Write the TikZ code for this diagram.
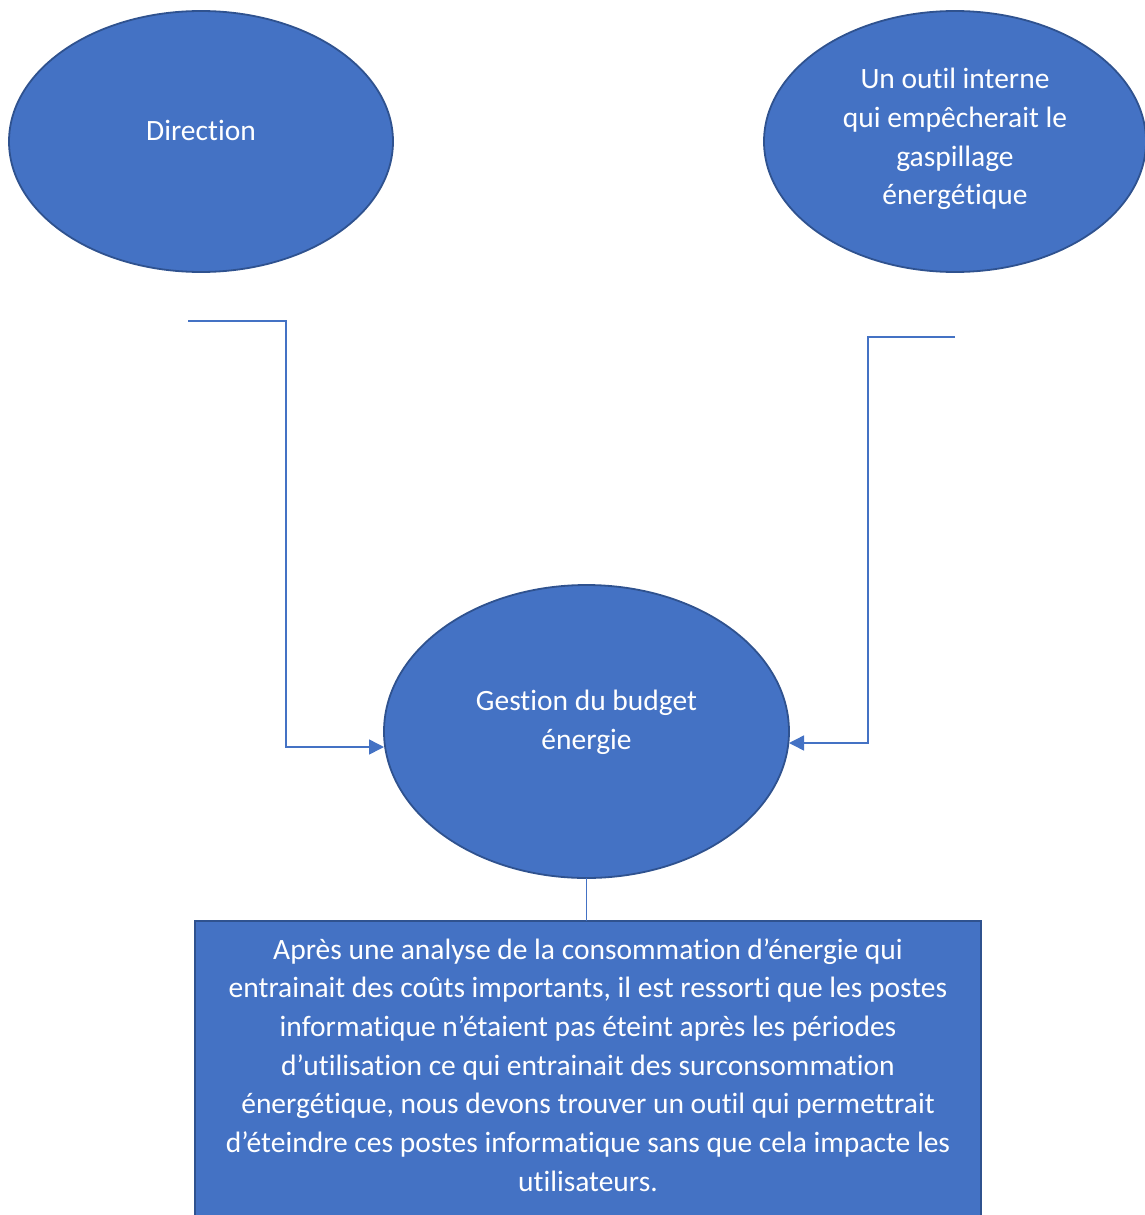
\documentclass[tikz,border=0pt]{standalone}
\usepackage{fontspec}
\setmainfont{Carlito}[Ligatures=NoCommon]
\usetikzlibrary{shapes.geometric,arrows.meta,calc}
\definecolor{offblue}{HTML}{4472C4}
\definecolor{offedge}{HTML}{2F528F}
\begin{document}
\begin{tikzpicture}[x=1pt,y=-1pt,
  blob/.style={ellipse,draw=offedge,fill=offblue,line width=1.8pt,inner sep=0pt,outer sep=0pt},
  label/.style={text=white,align=center,font=\fontsize{29.5}{38.7}\selectfont,inner sep=0pt},
  link/.style={draw=offblue,line width=1.5pt},
  tip/.style={-{Triangle[length=15pt,width=15pt]}}]
\useasboundingbox (0,0) rectangle (1145,1215);
\node[blob,minimum width=384pt,minimum height=261pt] (dir) at (201,141.5) {};
\node[label] (dirt) at (201,130) {Direction};
\node[blob,minimum width=382pt,minimum height=261pt] (outil) at (955,141.5) {};
\node[label] (outilt) at (955,139) {Un outil interne\\qui empêcherait le\\gaspillage\\énergétique};
\node[blob,minimum width=405pt,minimum height=293pt] (g) at (586.5,731.5) {};
\node[label] (gt) at (586.5,722) {Gestion du budget\\énergie};
\node[draw=offedge,fill=offblue,line width=1.8pt,minimum width=786pt,minimum height=310pt,inner sep=0pt,outer sep=0pt,anchor=north west] (box) at (195,921) {};
\node[label,anchor=north] (boxt) at (588,938) {Après une analyse de la consommation d’énergie qui\\entrainait des coûts importants, il est ressorti que les postes\\informatique n’étaient pas éteint après les périodes\\d’utilisation ce qui entrainait des surconsommation\\énergétique, nous devons trouver un outil qui permettrait\\d’éteindre ces postes informatique sans que cela impacte les\\utilisateurs.};
\coordinate (s1) at (188,321);
\coordinate (s2) at (955,337);
\coordinate (b1) at (286,747);
\coordinate (b2) at (868,743);
\draw[link,tip] (s1) -- (286,321) -- (b1) -- (b1 -| g.west);
\draw[link,tip] (s2) -- (868,337) -- (b2) -- (b2 -| g.east);
\draw[link] (g.south) -- (box.north -| g.south);
\end{tikzpicture}
\end{document}
